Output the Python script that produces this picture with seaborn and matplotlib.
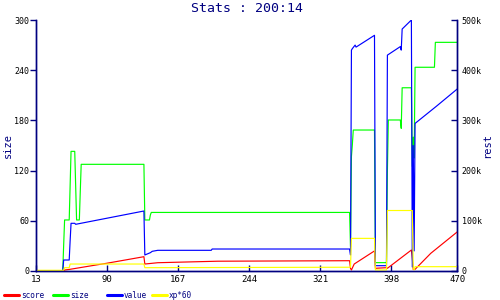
import matplotlib
matplotlib.use("Agg")
import matplotlib.pyplot as plt
import seaborn as sns
import pandas as pd
from matplotlib.ticker import FuncFormatter
from matplotlib.lines import Line2D

# ---- data (x = sample index, 13..470) ----
size_x = [13, 42, 43, 44, 49, 50, 51, 55, 56, 57, 60, 61, 62, 130, 131, 136, 137, 138,
          353, 354, 355, 356, 357, 358, 380, 381, 393, 394, 395, 408, 409, 410, 420,
          421, 422, 423, 424, 445, 446, 470]
size_y = [0, 0, 31, 61, 61, 102, 143, 143, 102, 61, 61, 95, 127.5, 127.5, 61, 61, 67, 70,
          70, 29, 137, 151, 168.5, 168.5, 168.5, 10, 10, 120, 180.5, 180.5, 170.5, 219, 219,
          125, 160, 135, 243.5, 243.5, 273.3, 273.3]

score_x = [13, 43, 44, 50, 70, 90, 110, 130, 131, 137, 145, 210, 353, 354, 355, 356, 358,
           380, 381, 393, 394, 420, 421, 422, 424, 441, 470]
score_y = [0, 0, 2000, 3400, 9500, 15500, 22000, 28500, 13900, 15000, 16500, 19500, 20500,
           5000, 2000, 6000, 13900, 40000, 5400, 6600, 5400, 41800, 25000, 3000, 3400,
           35200, 78300]

value_x = [13, 14, 42, 43, 49, 50, 51, 55, 56, 130, 131, 137, 139, 145, 203, 204, 353, 354,
           355, 356, 359, 360, 380, 381, 393, 394, 408, 409, 410, 420, 421, 422, 423, 424,
           447, 470]
value_y = [8000, 0, 0, 21900, 21900, 60000, 95000, 95000, 93000, 119500, 31900, 36500,
           39200, 41200, 41200, 43800, 43800, 31900, 440000, 443000, 450000, 446000, 469500,
           10600, 10600, 430000, 447000, 440000, 482000, 500000, 8000, 250000, 40000, 294000,
           328000, 363000]

xp_x = [13, 43, 44, 49, 50, 130, 131, 353, 354, 355, 380, 381, 393, 394, 421, 422, 423,
        424, 470]
xp_y = [1400, 1400, 6600, 6600, 13900, 13900, 6600, 7500, 7500, 65000, 65000, 2000, 2000,
        120500, 120500, 5000, 2000, 8600, 8600]

x_ticks = [13, 90, 167, 244, 321, 398, 470]
size_ticks = [0, 60, 120, 180, 240, 300]
rest_ticks = [0, 100000, 200000, 300000, 400000, 500000]

title = "Stats : 200:14"
navy = "#000080"

sns.set_theme(style="white")
plt.rcParams["font.family"] = ["DejaVu Sans Mono"]

fig = plt.figure(figsize=(5, 3), dpi=100)
ax = fig.add_axes([36 / 500, 1 - 271 / 300, (457.5 - 36) / 500, 251 / 300])
ax2 = ax.twinx()

lw = 0.85
sns.lineplot(data=pd.DataFrame({"x": size_x, "y": size_y}), x="x", y="y", ax=ax,
             color="#00ff00", lw=lw, estimator=None, sort=False)
sns.lineplot(data=pd.DataFrame({"x": score_x, "y": score_y}), x="x", y="y", ax=ax2,
             color="#ff0000", lw=lw, estimator=None, sort=False)
sns.lineplot(data=pd.DataFrame({"x": value_x, "y": value_y}), x="x", y="y", ax=ax2,
             color="#0000ff", lw=lw, estimator=None, sort=False)
sns.lineplot(data=pd.DataFrame({"x": xp_x, "y": xp_y}), x="x", y="y", ax=ax2,
             color="#ffff00", lw=lw, estimator=None, sort=False)

ax.set_xlim(13, 470)
ax.set_ylim(0, 300)
ax2.set_ylim(0, 500000)
ax.set_xticks(x_ticks)
ax.set_yticks(size_ticks)
ax2.set_yticks(rest_ticks)
ax2.yaxis.set_major_formatter(FuncFormatter(lambda v, p: "0" if v == 0 else f"{int(v/1000)}k"))

for a in (ax, ax2):
    for s in a.spines.values():
        s.set_color(navy)
        s.set_linewidth(1.0)
    a.spines["top"].set_visible(False)
    a.grid(False)
    a.set_xlabel("")
    a.set_ylabel("")

ax.tick_params(axis="y", direction="out", length=4, width=1, color=navy, pad=1,
               labelsize=6, labelcolor="black", left=True)
ax.tick_params(axis="x", direction="in", length=4, width=1, color=navy, pad=3,
               labelsize=6.5, labelcolor="black", bottom=True)
ax2.tick_params(axis="y", direction="in", length=4, width=1, color=navy, pad=3,
                labelsize=6, labelcolor="black", right=True)

fig.text(8 / 500, 1 - 146 / 300, "size", rotation=90, color=navy, fontsize=7.5,
         ha="center", va="center")
fig.text(487 / 500, 1 - 146 / 300, "rest", rotation=90, color=navy, fontsize=7.5,
         ha="center", va="center")
fig.text(246.7 / 500, 1 - 8.5 / 300, title, color=navy, fontsize=9.5,
         ha="center", va="center")

labels = ["score", "size", "value", "xp*60"]
colors = ["#ff0000", "#00ff00", "#0000ff", "#ffff00"]
xs = [4, 53, 107, 152]
for lab, col, xpx in zip(labels, colors, xs):
    h = Line2D([0], [0], color=col, lw=2.2)
    leg = fig.legend([h], [lab], loc="center left", bbox_to_anchor=(xpx / 500, 1 - 295 / 300),
                     frameon=False, borderpad=0, borderaxespad=0, handlelength=1.9,
                     handletextpad=0.3, fontsize=5.6)
    for t in leg.get_texts():
        t.set_color(navy)

fig.savefig("out.png", dpi=100, facecolor="white")
